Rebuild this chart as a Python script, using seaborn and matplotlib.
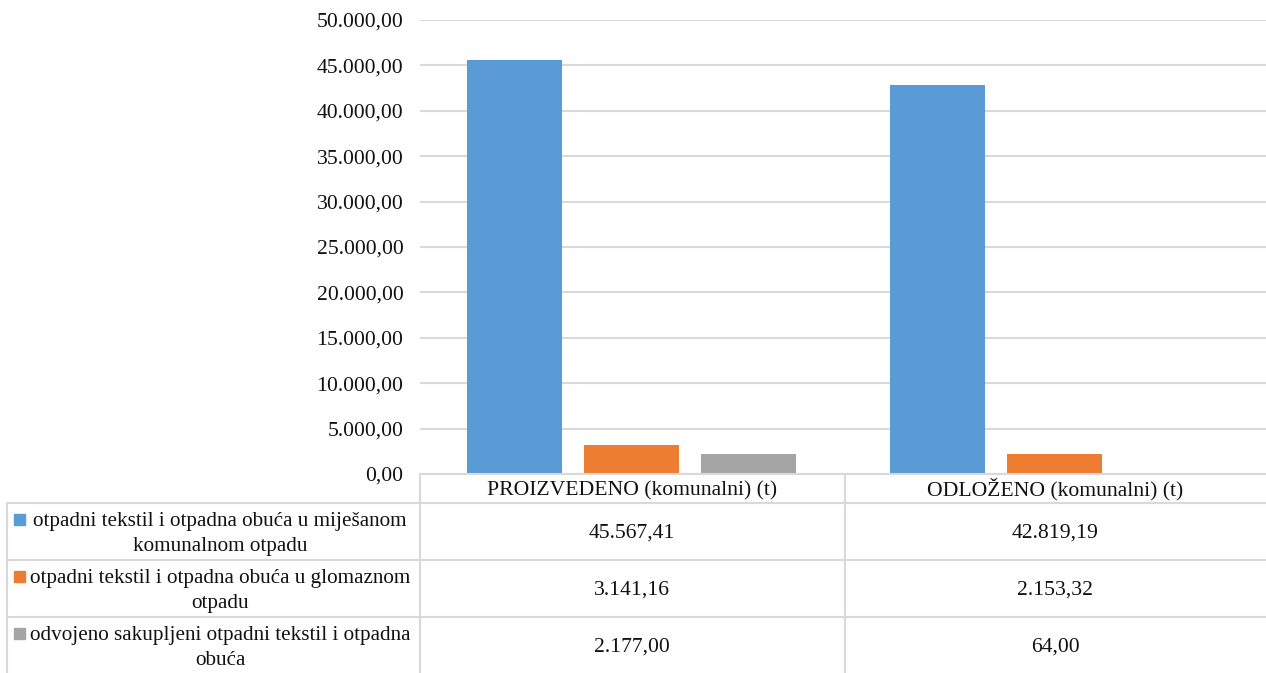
import matplotlib
matplotlib.use("Agg")
import matplotlib.pyplot as plt
import numpy as np
import pandas as pd
import seaborn as sns
from matplotlib.lines import Line2D
from matplotlib.patches import Rectangle
from matplotlib.ticker import FuncFormatter

categories = ["PROIZVEDENO (komunalni) (t)", "ODLOŽENO (komunalni) (t)"]
series = [
    "otpadni tekstil i otpadna obuća u miješanom\nkomunalnom otpadu",
    "otpadni tekstil i otpadna obuća u glomaznom\notpadu",
    "odvojeno sakupljeni otpadni tekstil i otpadna\nobuća",
]
mixed_waste = [45567.41, 42819.19]
bulky_waste = [3141.16, 2153.32]
separate_collected = [2177.00, 64.00]
colors = ["#5B9BD5", "#ED7D31", "#A5A5A5"]
y_ticks = np.arange(0, 50001, 5000)

W, H = 1266, 673
FONT = "Liberation Serif"
FS = 15.6
FS_ROW = 15.2
GRID = "#d9d9d9"
TXT = "#111111"


def fmt_num(v, _pos=None):
    s = f"{v:,.2f}"
    return s.replace(",", "X").replace(".", ",").replace("X", ".")


def fx(x):
    return x / W


def fy(y):
    return 1 - y / H


rows = []
for s, vals in zip(series, [mixed_waste, bulky_waste, separate_collected]):
    for c, v in zip(categories, vals):
        rows.append({"kategorija": c, "serija": s, "vrijednost": v})
df = pd.DataFrame(rows)

sns.set_theme(style="white")
plt.rcParams["font.family"] = [FONT, "DejaVu Serif"]

fig = plt.figure(figsize=(W / 100, H / 100), dpi=100)
ax = fig.add_axes([fx(420), fy(474), fx(1266) - fx(420), fy(20) - fy(474)])

sns.barplot(
    data=df, x="kategorija", y="vrijednost", hue="serija",
    order=categories, hue_order=series, palette=colors, saturation=1,
    width=0.83, gap=0.19, legend=False, ax=ax,
    edgecolor="none", linewidth=0,
)

ax.set_ylim(0, 50000)
ax.set_xlim(-0.5, 1.5)
ax.set_yticks(y_ticks)
ax.yaxis.set_major_formatter(FuncFormatter(fmt_num))
ax.tick_params(axis="y", length=0, pad=12, labelsize=FS, labelcolor=TXT)
ax.set_xticks([])
ax.set_xlabel("")
ax.set_ylabel("")
ax.grid(axis="y", color=GRID, lw=1.5)
ax.set_axisbelow(True)
for sp in ax.spines.values():
    sp.set_visible(False)


# data table below the plot
def hline(y, x0, x1):
    fig.add_artist(Line2D([fx(x0), fx(x1)], [fy(y), fy(y)], color=GRID, lw=1.5))


def vline(x, y0, y1):
    fig.add_artist(Line2D([fx(x), fx(x)], [fy(y0), fy(y1)], color=GRID, lw=1.5))


hline(474, 420, 1266)
hline(503, 7, 1266)
hline(560, 7, 1266)
hline(617, 7, 1266)
vline(7, 503, 673)
vline(420, 474, 673)
vline(845, 474, 673)

col_centers = [632, 1055]
for c, cx in zip(categories, col_centers):
    fig.text(fx(cx), fy(495), c, ha="center", va="baseline", fontsize=FS, color=TXT)

row_tops = [503, 560, 617]
all_vals = [mixed_waste, bulky_waste, separate_collected]
for top, s, vals, col in zip(row_tops, series, all_vals, colors):
    first, second = s.split("\n")
    fig.text(fx(220), fy(top + 23), first, ha="center", va="baseline", fontsize=FS_ROW, color=TXT)
    fig.text(fx(220), fy(top + 48), second, ha="center", va="baseline", fontsize=FS_ROW, color=TXT)
    fig.add_artist(Rectangle((fx(14), fy(top + 22)), fx(11), 11 / H, color=col,
                             transform=fig.transFigure))
    for v, cx in zip(vals, col_centers):
        fig.text(fx(cx), fy(top + 35), fmt_num(v), ha="center", va="baseline", fontsize=FS, color=TXT)

fig.savefig("out.png", dpi=100)
